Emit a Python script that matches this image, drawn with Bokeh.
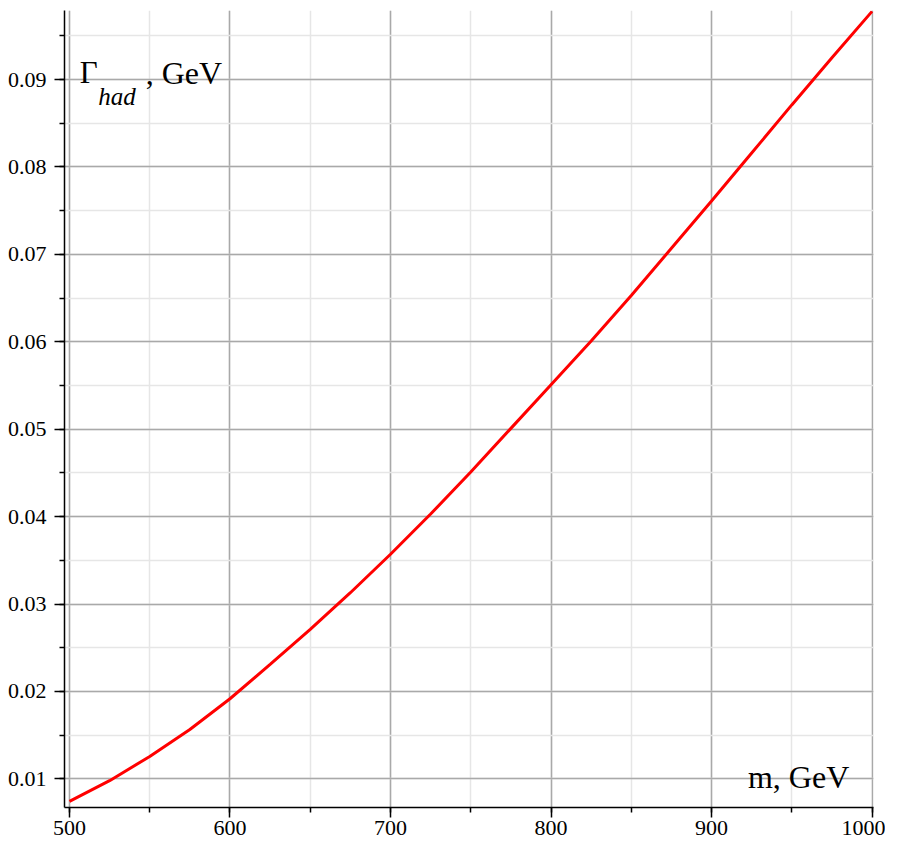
from bokeh.plotting import figure
from bokeh.models import SingleIntervalTicker, PrintfTickFormatter, Label, Range1d
from bokeh.embed import file_html
from bokeh.resources import INLINE

# Data
mass = [500, 525, 550, 575, 600, 625, 650, 675, 700, 725, 750, 775,
        800, 825, 850, 875, 900, 925, 950, 975, 1000]
gamma_had = [0.00743, 0.0098, 0.01257, 0.01566, 0.01917, 0.0231, 0.0271,
             0.0313, 0.0357, 0.0403, 0.0451, 0.0501, 0.0551, 0.0601,
             0.0653, 0.0707, 0.0761, 0.0816, 0.0871, 0.0925, 0.0978]

FONT = "Liberation Serif"

p = figure(width=885, height=843, output_backend="svg", toolbar_location=None,
           x_range=Range1d(496.9, 1000.9), y_range=Range1d(0.00673, 0.0979),
           min_border_left=64, min_border_right=12, min_border_top=10,
           min_border_bottom=36)
p.outline_line_color = None
p.background_fill_color = "white"
p.border_fill_color = "white"

p.xaxis.ticker = SingleIntervalTicker(interval=100, num_minor_ticks=2)
p.yaxis.ticker = SingleIntervalTicker(interval=0.01, num_minor_ticks=2)
p.xaxis.formatter = PrintfTickFormatter(format="%d")
p.yaxis.formatter = PrintfTickFormatter(format="%.2f")

for ax in (p.xaxis[0], p.yaxis[0]):
    ax.axis_line_color = "black"
    ax.axis_line_width = 1.5
    ax.major_tick_line_color = "black"
    ax.major_tick_line_width = 1.5
    ax.minor_tick_line_color = "black"
    ax.minor_tick_line_width = 1.5
    ax.major_tick_out = 10
    ax.major_tick_in = 0
    ax.minor_tick_out = 5
    ax.minor_tick_in = 0
    ax.major_label_text_font = FONT
    ax.major_label_text_font_size = "22px"
    ax.major_label_text_color = "black"
p.xaxis.major_label_standoff = 3
p.yaxis.major_label_standoff = 8

for g in (p.xgrid[0], p.ygrid[0]):
    g.grid_line_color = "#a9a9a9"
    g.grid_line_width = 1.5
    g.minor_grid_line_color = "#e6e6e6"
    g.minor_grid_line_width = 1.5

p.line(mass, gamma_had, line_color="red", line_width=3)

p.add_layout(Label(x=506.4, y=0.0908, text="Γ", text_font=FONT,
                   text_font_size="31px", text_color="black",
                   text_baseline="alphabetic"))
p.add_layout(Label(x=518.0, y=0.0881, text="had", text_font=FONT,
                   text_font_size="25px", text_font_style="italic",
                   text_color="black", text_baseline="alphabetic"))
p.add_layout(Label(x=547.5, y=0.0908, text=", GeV", text_font=FONT,
                   text_font_size="32px", text_color="black",
                   text_baseline="alphabetic"))
p.add_layout(Label(x=922.7, y=0.0102, text="m, GeV", text_font=FONT,
                   text_font_size="32px", text_color="black",
                   text_baseline="alphabetic"))

open("out.html", "w").write(file_html(p, INLINE))
